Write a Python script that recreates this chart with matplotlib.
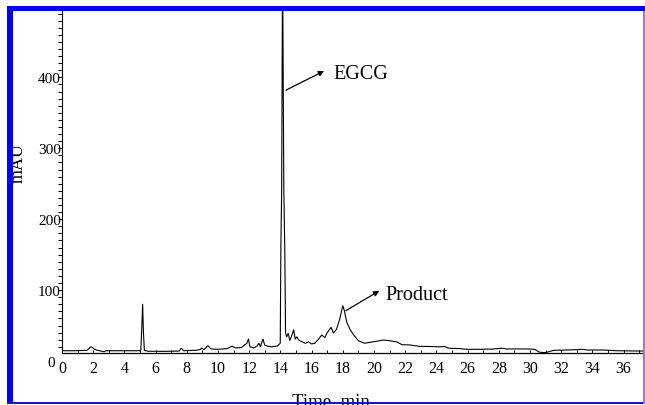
import matplotlib
matplotlib.use("Agg")
import matplotlib.pyplot as plt
from matplotlib.patches import Rectangle
from matplotlib.ticker import MultipleLocator

# ---- data ----
time_min = [0.0, 0.8, 1.6, 1.75, 1.85, 1.95, 2.05, 2.2, 2.5, 2.7, 2.8, 3.5, 4.5,
            5.05, 5.12, 5.17, 5.22, 5.28, 5.5, 6.5, 7.5, 7.65, 7.8, 8.5, 8.85, 8.95,
            9.1, 9.35, 9.55, 10.0, 10.6, 10.9, 11.1, 11.5, 11.85, 11.95, 12.05, 12.3,
            12.5, 12.62, 12.72, 12.88, 13.0, 13.4, 13.8, 13.99, 14.03, 14.08, 14.14,
            14.22, 14.28, 14.33, 14.4, 14.5, 14.6, 14.7, 14.85, 14.95, 15.05, 15.2,
            15.4, 15.6, 15.8, 16.0, 16.2, 16.45, 16.65, 16.85, 17.0, 17.25, 17.4,
            17.6, 17.8, 18.0, 18.1, 18.25, 18.45, 18.7, 19.0, 19.4, 19.8, 20.2, 20.6,
            21.0, 21.45, 21.8, 22.3, 22.9, 23.5, 24.2, 24.5, 24.8, 25.5, 25.9, 26.8,
            27.6, 28.2, 28.5, 29.8, 30.3, 30.6, 30.9, 31.2, 31.5, 32.3, 33.0, 33.3,
            33.7, 34.7, 35.5, 37.4]
mau = [14.5, 14.5, 15, 18, 20, 19, 17, 15.5, 14, 13, 14.5, 14.5, 14.5,
       14.5, 50, 80, 40, 15, 13.8, 13.6, 14, 18, 14.5, 15, 16, 18,
       16, 21.6, 17, 16.5, 17.5, 21, 18.5, 19, 25, 31, 20, 18.5,
       21, 25, 20, 31, 22, 20, 21, 25, 160, 240, 560,
       240, 160, 40, 34, 39, 29, 34, 44, 31, 34, 29,
       27, 25, 27, 24, 25, 31, 36.6, 33, 40, 47.5, 39.5,
       45, 59, 78, 71, 55, 45, 36.6, 28.6, 25, 26.6, 28, 29.6,
       28.6, 27, 23, 22.6, 20.7, 20.5, 20, 20.5, 18, 17.5, 16.5, 16.5,
       16.8, 18, 17, 17, 16.5, 12.5, 11.8, 13, 15, 15.5, 16, 16.5,
       15.5, 15.5, 14.5, 14]

y_ticks = [0, 100, 200, 300, 400]
x_ticks = list(range(0, 38, 2))
annotations = [("EGCG", (14.36, 382), (16.8, 409), (17.4, 399)),
               ("Product", (18.2, 71), (20.34, 99), (20.75, 87))]

W, H = 645, 406
fig = plt.figure(figsize=(W / 100, H / 100), dpi=100)
fig.patch.set_facecolor("white")

ax = fig.add_axes([62 / W, (H - 362) / H, (W - 62) / W, 350 / H])
ax.set_facecolor("none")
serif = "Liberation Serif"

ax.plot(time_min, mau, color="black", lw=0.8)

ax.set_xlim(0, 583 / 15.6)
ax.set_ylim(0, 493.6)

for s in ("top", "right"):
    ax.spines[s].set_visible(False)
ax.spines["bottom"].set_position(("data", 11))
ax.spines["left"].set_bounds(11, 493.6)
ax.spines["left"].set_linewidth(0.8)
ax.spines["bottom"].set_linewidth(0.9)

ax.set_xticks(x_ticks)
ax.set_xticklabels([str(v) for v in x_ticks])
ax.xaxis.set_minor_locator(MultipleLocator(1))
ax.tick_params(axis="x", which="both", direction="in", length=2.5, width=0.7, pad=5)
ax.tick_params(axis="x", which="major", labelsize=11.5)

ax.set_yticks(y_ticks)
ax.set_yticklabels([str(v) for v in y_ticks])
ax.tick_params(axis="y", which="both", direction="out", length=2.8, width=0.7, pad=-2)
ax.tick_params(axis="y", which="major", labelsize=11)
ax.set_yticks([v for v in range(20, 494, 10)], minor=True)
zero_tick = ax.yaxis.get_major_ticks()[0]
zero_tick.tick1line.set_visible(False)
zero_tick.set_pad(2.5)

for lab in ax.get_xticklabels() + ax.get_yticklabels():
    lab.set_fontfamily(serif)

for text, start, end, pos in annotations:
    ax.annotate("", xy=end, xytext=start,
                arrowprops=dict(arrowstyle="-|>", color="black", lw=0.9,
                                mutation_scale=8, shrinkA=0, shrinkB=0))
    ax.text(pos[0], pos[1], text, fontsize=14.5, family=serif,
            ha="left", va="baseline")

fig.text(18 / W, 1 - 163 / H, "mAU", rotation=90, fontsize=13, family=serif,
         ha="center", va="center")
fig.text(331 / W, 1 - 406.5 / H, "Time, min", fontsize=13.5, family=serif,
         ha="center", va="baseline")

# blue frame around the figure
def prect(x0, y0, x1, y1, color):
    fig.patches.append(Rectangle((x0 / W, 1 - y1 / H), (x1 - x0) / W, (y1 - y0) / H,
                                 transform=fig.transFigure, color=color, lw=0,
                                 zorder=10))

prect(7, 7, W, 12, "#0000f5")
prect(7, 7, 12.5, 405, "#0000f5")
prect(7, 403, W, 405, "#1010f0")
prect(643, 12, W, 405, "#8080ff")

fig.savefig("out.png", dpi=100)
